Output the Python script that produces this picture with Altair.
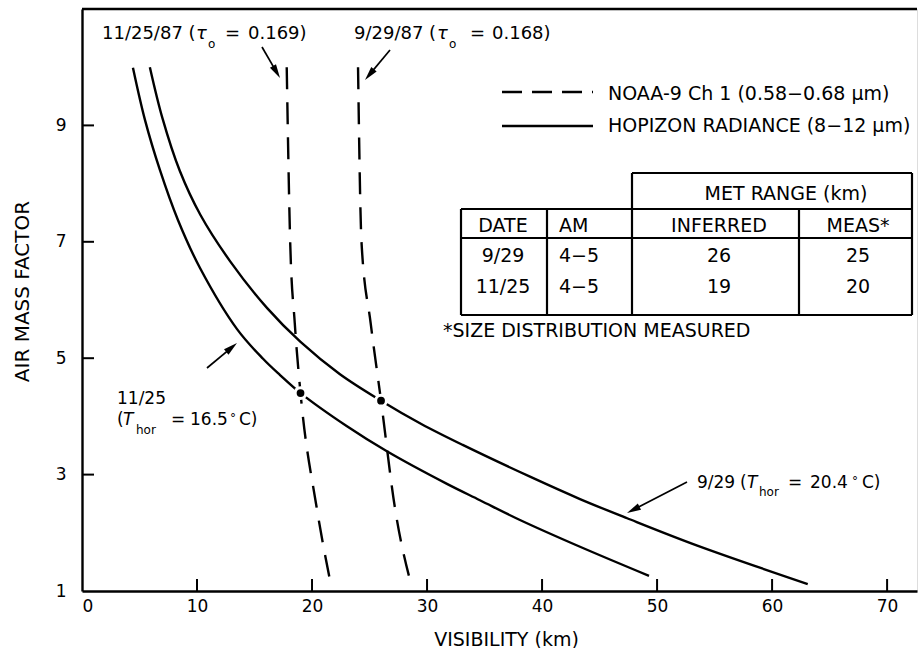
import math
import altair as alt
import pandas as pd

# ---------------------------------------------------------------- data
# Horizon radiance (8-12 um) retrievals: visibility (km) vs air mass factor
hor_929_vis = [5.9, 7.0, 8.5, 10.3, 12.9, 16.1, 19.0, 22.4, 26.0, 29.5, 33.1,
               39.0, 43.3, 47.4, 53.5, 63.1]
hor_929_am = [10.0, 9.12, 8.22, 7.46, 6.66, 5.86, 5.28, 4.73, 4.27, 3.87, 3.51,
              2.96, 2.58, 2.25, 1.78, 1.12]
hor_1125_vis = [4.43, 5.48, 6.78, 8.35, 10.26, 13.48, 15.74, 17.22, 19.0, 23.04,
                26.51, 31.73, 34.6, 38.08, 43.3, 49.3]
hor_1125_am = [9.99, 9.09, 8.23, 7.37, 6.55, 5.50, 4.99, 4.71, 4.40, 3.83,
               3.40, 2.84, 2.56, 2.22, 1.76, 1.26]

# NOAA-9 channel 1 (0.58-0.68 um) retrievals
noaa_929_vis = [24.0, 24.3, 25.1, 26.0, 27.2, 28.7]
noaa_929_am = [10.0, 7.0, 5.6, 4.27, 2.44, 1.05]
noaa_1125_vis = [17.8, 18.1, 18.5, 19.0, 20.4, 21.7]
noaa_1125_am = [10.0, 7.0, 5.6, 4.40, 2.44, 1.05]

# Met range table
met_dates = ["9/29", "11/25"]
met_am = ["4\u22125", "4\u22125"]
met_inferred = [26, 19]
met_measured = [25, 20]
# air mass factor at which the two retrievals agree
cross_am = [4.27, 4.40]

x_ticks = [0, 10, 20, 30, 40, 50, 60, 70]
y_ticks = [1, 3, 5, 7, 9]

# ---------------------------------------------------------------- layout
W, H = 835, 582
LEFT, TOP = 82, 9
X_MAX, Y_MIN, Y_MAX = 72.6, 1.0, 11.0
FONT = "DejaVu Sans"
INK = "black"


def dx(px):
    """page pixel column -> visibility units"""
    return (px - LEFT) / W * X_MAX


def dy(py):
    """page pixel row -> air-mass units"""
    return Y_MAX - (py - TOP) / H * (Y_MAX - Y_MIN)


xs = alt.Scale(domain=[0, X_MAX], nice=False, zero=False)
ys = alt.Scale(domain=[Y_MIN, Y_MAX], nice=False, zero=False)

x_axis = alt.Axis(values=x_ticks, format="d", title="VISIBILITY (km)",
                  ticks=False, tickSize=0, grid=False, labelPadding=7,
                  domainWidth=2.4, domainColor=INK,
                  labelFont=FONT, labelFontSize=17, labelColor=INK,
                  titleFont=FONT, titleFontSize=19, titleFontWeight="normal",
                  titleColor=INK, titleX=424, titleY=54, titleAlign="center",
                  titleBaseline="alphabetic")
y_axis = alt.Axis(values=y_ticks, format="d", title="AIR MASS FACTOR",
                  ticks=False, tickSize=0, grid=False, labelPadding=16,
                  domainWidth=2.4, domainColor=INK,
                  labelFont=FONT, labelFontSize=17, labelColor=INK,
                  titleFont=FONT, titleFontSize=20, titleFontWeight="normal",
                  titleColor=INK, titleAngle=270, titleX=-60, titleY=282,
                  titleAlign="center", titleBaseline="middle")


def X(field="x"):
    return alt.X(f"{field}:Q", scale=xs, axis=x_axis)


def Y(field="y"):
    return alt.Y(f"{field}:Q", scale=ys, axis=y_axis)


def series_frame(pairs):
    rows = []
    for name, xv, yv in pairs:
        for i, (a, b) in enumerate(zip(xv, yv)):
            rows.append({"series": name, "i": i, "x": a, "y": b})
    return pd.DataFrame(rows)


# ---------------------------------------------------------------- curves
solid_df = series_frame([("9/29", hor_929_vis, hor_929_am),
                         ("11/25", hor_1125_vis, hor_1125_am)])
dashed_df = series_frame([("9/29", noaa_929_vis, noaa_929_am),
                          ("11/25", noaa_1125_vis, noaa_1125_am)])

solid = alt.Chart(solid_df).mark_line(
    color=INK, strokeWidth=2.4, interpolate="catmull-rom"
).encode(x=X(), y=Y(), detail="series:N", order="i:Q")

dashed = alt.Chart(dashed_df).mark_line(
    color=INK, strokeWidth=2.4, strokeDash=[22, 13], interpolate="monotone"
).encode(x=X(), y=Y(), detail="series:N", order="i:Q")

cross_df = pd.DataFrame({"x": met_inferred, "y": cross_am})
halo = alt.Chart(cross_df).mark_circle(color="white", opacity=1, size=190).encode(x=X(), y=Y())
dots = alt.Chart(cross_df).mark_circle(color=INK, opacity=1, size=60).encode(x=X(), y=Y())

# ---------------------------------------------------------------- frame ticks
dummy = pd.DataFrame({"k": [0]})
top_line = alt.Chart(dummy).mark_rule(color=INK, strokeWidth=2.4).encode(
    x=alt.value(0), x2=alt.value(W), y=alt.value(0))
xtick_marks = alt.Chart(pd.DataFrame({"x": x_ticks[1:]})).mark_rule(
    color=INK, strokeWidth=2).encode(x=X(), y=alt.value(H), y2=alt.value(H - 12))
ytick_marks = alt.Chart(pd.DataFrame({"y": y_ticks[1:]})).mark_rule(
    color=INK, strokeWidth=2).encode(y=Y(), x=alt.value(0), x2=alt.value(12))


# ---------------------------------------------------------------- helpers
def rules(segments, **style):
    df = pd.DataFrame([{"x": dx(a), "y": dy(b), "x2": dx(c), "y2": dy(d)}
                       for a, b, c, d in segments])
    return alt.Chart(df).mark_rule(color=INK, **style).encode(
        x=X(), x2="x2:Q", y=Y(), y2="y2:Q")


def texts(items, size, align="left", style="normal"):
    df = pd.DataFrame([{"t": str(t), "x": dx(a), "y": dy(b)} for t, a, b in items])
    return alt.Chart(df).mark_text(
        font=FONT, fontSize=size, fontStyle=style, color=INK,
        align=align, baseline="alphabetic"
    ).encode(x=X(), y=Y(), text="t:N")


# ---------------------------------------------------------------- legend
legend_lines = [
    rules([(502, 92, 593, 92)], strokeWidth=2.4, strokeDash=[20, 10]),
    rules([(502, 126, 593, 126)], strokeWidth=2.4),
]
legend_text = texts([("NOAA-9 Ch 1 (0.58\u22120.68 \u03bcm)", 608, 100),
                     ("HOPIZON RADIANCE (8\u221212 \u03bcm)", 608, 132)], 19)

# ---------------------------------------------------------------- table
T_L, T_C1, T_C2, T_C3, T_R = 461, 547, 632, 799, 912
T_Y0, T_Y1, T_Y2, T_Y3 = 173, 209, 238, 315
table_lines = rules([
    (T_C2, T_Y0, T_R, T_Y0),
    (T_L, T_Y1, T_R, T_Y1),
    (T_L, T_Y2, T_R, T_Y2),
    (T_L, T_Y3, T_R, T_Y3),
    (T_C2, T_Y0, T_C2, T_Y3),
    (T_R, T_Y0, T_R, T_Y3),
    (T_L, T_Y1, T_L, T_Y3),
    (T_C1, T_Y1, T_C1, T_Y3),
    (T_C3, T_Y1, T_C3, T_Y3),
], strokeWidth=2.2)

row_base = [262, 293]
table_center = [("MET RANGE (km)", 786, 200), ("DATE", 503, 232),
                ("INFERRED", 719, 232), ("MEAS*", 858, 232)]
table_left = [("AM", 559, 232)]
for d, a, inf, mea, yb in zip(met_dates, met_am, met_inferred, met_measured, row_base):
    table_center += [(d, 503, yb), (inf, 719, yb), (mea, 858, yb)]
    table_left += [(a, 559, yb)]
table_left += [("*SIZE DISTRIBUTION MEASURED", 443, 337)]

# ---------------------------------------------------------------- annotations
annot_18 = [("11/25/87 (", 102, 39), ("=", 225, 39), ("0.169)", 248, 39),
            ("9/29/87 (", 354, 39), ("=", 470, 39), ("0.168)", 492, 39)]
annot_17 = [("11/25", 117, 404), ("(", 117, 425), ("=", 171, 425),
            ("16.5", 190, 425), ("C)", 239, 425),
            ("9/29", 697, 488), ("(", 740, 488), ("=", 788, 488),
            ("20.4", 810, 488), ("C)", 862, 488)]
annot_italic18 = [("\u03c4", 196, 39), ("\u03c4", 437, 39)]
annot_italic17 = [("T", 123, 425), ("T", 747, 488)]
annot_small = [("o", 208, 48), ("o", 449, 48), ("hor", 136, 434), ("hor", 759, 496),
               ("\u00b0", 230, 422), ("\u00b0", 852, 485)]

# arrows: (tail x, tail y, tip x, tip y) in page pixels
arrows = [(262, 47, 280, 78), (390, 50, 365, 80),
          (207, 368, 237, 343), (687, 482, 627, 513)]
shaft, heads = [], []
for x0, y0, x1, y1 in arrows:
    ddx, ddy = x1 - x0, y1 - y0
    L = math.hypot(ddx, ddy)
    shaft.append((x0, y0, x1 - ddx / L * 6, y1 - ddy / L * 6))
    ang = math.degrees(math.atan2(ddx, -ddy)) % 360
    heads.append({"x": dx(x1), "y": dy(y1), "ang": ang})

arrow_shafts = rules(shaft, strokeWidth=1.7)
arrow_heads = alt.Chart(pd.DataFrame(heads)).mark_point(
    shape="M0,0L0.5,2L-0.5,2Z", filled=True, color=INK, opacity=1,
    size=196, strokeWidth=0
).encode(x=X(), y=Y(), angle=alt.Angle("ang:Q", scale=None))

# ---------------------------------------------------------------- compose
chart = alt.layer(
    solid, dashed, halo, dots,
    top_line, xtick_marks, ytick_marks,
    *legend_lines, legend_text,
    table_lines,
    texts(table_center, 19, align="center"),
    texts(table_left, 19),
    texts(annot_18, 18),
    texts(annot_17, 17),
    texts(annot_italic18, 18, style="italic"),
    texts(annot_italic17, 17, style="italic"),
    texts(annot_small, 12),
    arrow_shafts, arrow_heads,
).properties(
    width=W, height=H,
    padding={"left": LEFT, "top": TOP, "right": 918 - LEFT - W, "bottom": 648 - TOP - H},
    autosize=alt.AutoSizeParams(type="none"),
    background="white",
).configure_view(stroke=None).configure(font=FONT)

chart.save("out.html", embed_options={"renderer": "svg", "actions": False})
